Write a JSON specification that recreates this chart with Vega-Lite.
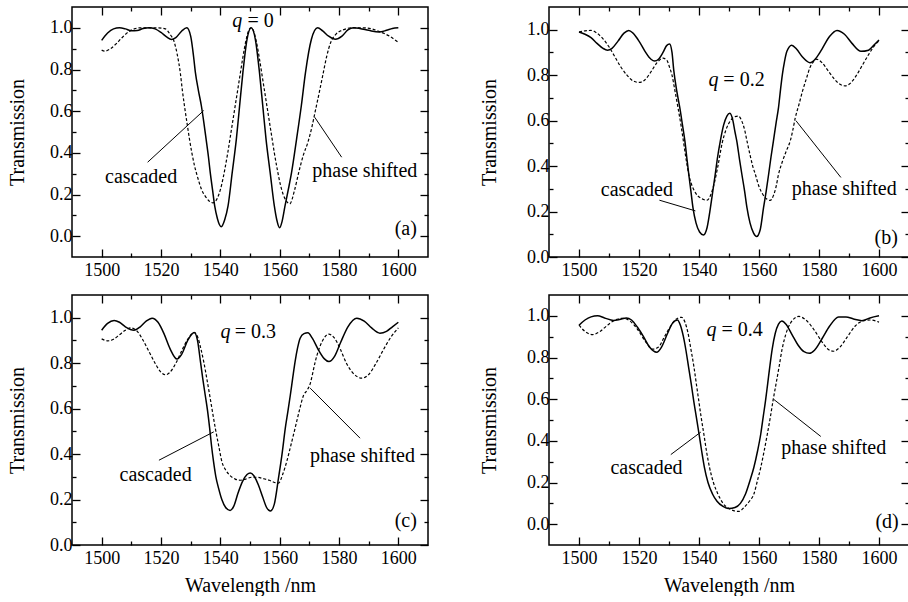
{
  "$schema": "https://vega.github.io/schema/vega-lite/v6.json",
  "background": "white",
  "padding": {"left": 6, "top": 5, "right": 0, "bottom": 0},
  "columns": 2,
  "spacing": {"row": 38, "column": 121},
  "bounds": "flush",
  "config": {
    "view": {"stroke": "black", "strokeWidth": 1.5},
    "axis": {"domain": false, "grid": false, "labelFont": "Liberation Serif, Times New Roman, DejaVu Serif, serif", "labelFontSize": 18, "labelColor": "black", "titleFont": "Liberation Serif, Times New Roman, DejaVu Serif, serif", "titleFontSize": 20, "titleFontWeight": "normal", "titleColor": "black", "tickColor": "black", "tickWidth": 1.3, "labelOverlap": false, "labelFlush": false},
    "text": {"font": "Liberation Serif, Times New Roman, DejaVu Serif, serif", "fontSize": 20, "color": "black"}
  },
  "datasets": {
    "ac": [{"w":1500,"t":0.94},{"w":1502,"t":0.975},{"w":1504,"t":0.995},{"w":1506,"t":1.0},{"w":1508,"t":0.995},{"w":1510,"t":0.986},{"w":1512,"t":0.987},{"w":1514,"t":0.997},{"w":1516,"t":1.0},{"w":1518,"t":0.995},{"w":1520,"t":0.978},{"w":1522,"t":0.955},{"w":1523.5,"t":0.944},{"w":1525,"t":0.953},{"w":1527,"t":0.985},{"w":1528.7,"t":1.0},{"w":1530,"t":0.96},{"w":1531,"t":0.86},{"w":1531.6,"t":0.785},{"w":1532.6,"t":0.7},{"w":1533.6,"t":0.626},{"w":1534.4,"t":0.55},{"w":1535.2,"t":0.466},{"w":1536,"t":0.38},{"w":1536.6,"t":0.305},{"w":1537.4,"t":0.22},{"w":1538.1,"t":0.145},{"w":1539,"t":0.085},{"w":1540.3,"t":0.045},{"w":1541.5,"t":0.08},{"w":1542.6,"t":0.145},{"w":1544,"t":0.305},{"w":1545.4,"t":0.466},{"w":1546.5,"t":0.626},{"w":1547.6,"t":0.785},{"w":1549,"t":0.945},{"w":1550.4,"t":1.0},{"w":1551.8,"t":0.945},{"w":1553.2,"t":0.785},{"w":1554.3,"t":0.626},{"w":1555.4,"t":0.466},{"w":1556.8,"t":0.305},{"w":1558.2,"t":0.145},{"w":1559,"t":0.08},{"w":1560,"t":0.04},{"w":1560.8,"t":0.07},{"w":1561.8,"t":0.145},{"w":1563,"t":0.23},{"w":1564,"t":0.305},{"w":1565.7,"t":0.466},{"w":1567.3,"t":0.626},{"w":1568.7,"t":0.785},{"w":1570.7,"t":0.945},{"w":1572.8,"t":1.0},{"w":1574.5,"t":0.985},{"w":1576.5,"t":0.96},{"w":1578.8,"t":0.945},{"w":1581,"t":0.96},{"w":1583,"t":0.99},{"w":1585,"t":1.0},{"w":1587,"t":0.997},{"w":1590,"t":0.988},{"w":1593.5,"t":0.98},{"w":1596,"t":0.988},{"w":1598,"t":0.997},{"w":1600,"t":1.0}],
    "ad": [{"w":1500,"t":0.893},{"w":1501,"t":0.888},{"w":1503,"t":0.9},{"w":1505,"t":0.925},{"w":1507,"t":0.955},{"w":1509,"t":0.98},{"w":1511,"t":0.995},{"w":1513,"t":1.0},{"w":1516,"t":1.0},{"w":1519,"t":1.0},{"w":1521.5,"t":0.995},{"w":1523,"t":0.97},{"w":1524.5,"t":0.93},{"w":1525.5,"t":0.87},{"w":1526.5,"t":0.785},{"w":1527.2,"t":0.7},{"w":1527.9,"t":0.626},{"w":1528.8,"t":0.54},{"w":1529.6,"t":0.466},{"w":1530.4,"t":0.4},{"w":1531.3,"t":0.338},{"w":1532.4,"t":0.28},{"w":1533.6,"t":0.226},{"w":1535,"t":0.19},{"w":1536.3,"t":0.168},{"w":1537.5,"t":0.16},{"w":1538.5,"t":0.17},{"w":1539.5,"t":0.2},{"w":1540.5,"t":0.25},{"w":1541.5,"t":0.32},{"w":1542.5,"t":0.4},{"w":1543.5,"t":0.49},{"w":1544.5,"t":0.58},{"w":1545.5,"t":0.67},{"w":1546.5,"t":0.76},{"w":1547.5,"t":0.85},{"w":1548.5,"t":0.93},{"w":1549.5,"t":0.985},{"w":1550.3,"t":1.0},{"w":1551.2,"t":0.985},{"w":1552.2,"t":0.93},{"w":1553.2,"t":0.85},{"w":1554.2,"t":0.76},{"w":1555.2,"t":0.67},{"w":1556.2,"t":0.58},{"w":1557.2,"t":0.49},{"w":1558.2,"t":0.4},{"w":1559.2,"t":0.32},{"w":1560.2,"t":0.25},{"w":1561.2,"t":0.2},{"w":1562.2,"t":0.17},{"w":1563.4,"t":0.155},{"w":1565,"t":0.22},{"w":1566.5,"t":0.31},{"w":1568,"t":0.39},{"w":1569.5,"t":0.45},{"w":1570.8,"t":0.52},{"w":1572,"t":0.6},{"w":1573.2,"t":0.68},{"w":1574.5,"t":0.77},{"w":1575.8,"t":0.86},{"w":1577.2,"t":0.93},{"w":1579,"t":0.97},{"w":1581.4,"t":0.99},{"w":1584,"t":1.0},{"w":1588,"t":1.0},{"w":1591,"t":0.995},{"w":1594,"t":0.98},{"w":1597,"t":0.96},{"w":1600,"t":0.93}],
    "bc": [{"w":1500,"t":0.99},{"w":1502,"t":0.98},{"w":1504,"t":0.965},{"w":1506,"t":0.94},{"w":1508,"t":0.918},{"w":1509.5,"t":0.91},{"w":1511,"t":0.918},{"w":1513,"t":0.95},{"w":1515,"t":0.985},{"w":1516.6,"t":0.997},{"w":1518,"t":0.985},{"w":1520,"t":0.95},{"w":1522,"t":0.905},{"w":1524,"t":0.87},{"w":1525.2,"t":0.862},{"w":1526.5,"t":0.87},{"w":1528,"t":0.9},{"w":1529.2,"t":0.93},{"w":1530.2,"t":0.937},{"w":1531,"t":0.9},{"w":1531.6,"t":0.82},{"w":1532.6,"t":0.73},{"w":1533.6,"t":0.657},{"w":1534.5,"t":0.58},{"w":1535.3,"t":0.51},{"w":1536,"t":0.43},{"w":1536.6,"t":0.363},{"w":1537.3,"t":0.29},{"w":1538,"t":0.216},{"w":1539,"t":0.15},{"w":1540.2,"t":0.11},{"w":1541.5,"t":0.097},{"w":1542.7,"t":0.13},{"w":1543.8,"t":0.216},{"w":1544.6,"t":0.29},{"w":1545.4,"t":0.363},{"w":1546.2,"t":0.44},{"w":1547.1,"t":0.51},{"w":1548.2,"t":0.58},{"w":1549.3,"t":0.62},{"w":1550.3,"t":0.632},{"w":1551.3,"t":0.6},{"w":1552,"t":0.55},{"w":1552.6,"t":0.51},{"w":1553.5,"t":0.43},{"w":1554.3,"t":0.363},{"w":1555.2,"t":0.29},{"w":1556,"t":0.216},{"w":1557,"t":0.15},{"w":1558.2,"t":0.105},{"w":1559.2,"t":0.09},{"w":1560.4,"t":0.12},{"w":1561.5,"t":0.216},{"w":1562.4,"t":0.29},{"w":1563.2,"t":0.363},{"w":1564,"t":0.44},{"w":1564.8,"t":0.51},{"w":1565.7,"t":0.59},{"w":1566.5,"t":0.657},{"w":1567.2,"t":0.74},{"w":1567.8,"t":0.804},{"w":1568.5,"t":0.86},{"w":1569.3,"t":0.905},{"w":1570.9,"t":0.932},{"w":1572.5,"t":0.915},{"w":1574.5,"t":0.88},{"w":1577,"t":0.855},{"w":1579,"t":0.875},{"w":1581,"t":0.915},{"w":1583.5,"t":0.97},{"w":1586,"t":0.997},{"w":1588.5,"t":0.98},{"w":1591,"t":0.94},{"w":1594,"t":0.905},{"w":1596.5,"t":0.91},{"w":1598.5,"t":0.935},{"w":1600,"t":0.955}],
    "bd": [{"w":1500,"t":0.99},{"w":1502,"t":0.995},{"w":1504,"t":0.997},{"w":1506,"t":0.985},{"w":1508,"t":0.96},{"w":1510,"t":0.925},{"w":1512,"t":0.88},{"w":1514,"t":0.835},{"w":1516,"t":0.8},{"w":1518,"t":0.775},{"w":1520,"t":0.768},{"w":1522,"t":0.78},{"w":1524,"t":0.815},{"w":1526,"t":0.855},{"w":1528,"t":0.875},{"w":1529.3,"t":0.865},{"w":1530.3,"t":0.83},{"w":1531,"t":0.8},{"w":1532,"t":0.73},{"w":1533,"t":0.657},{"w":1534,"t":0.58},{"w":1534.8,"t":0.51},{"w":1535.7,"t":0.43},{"w":1536.6,"t":0.363},{"w":1537.5,"t":0.32},{"w":1538.5,"t":0.29},{"w":1539.5,"t":0.27},{"w":1540.5,"t":0.26},{"w":1541.5,"t":0.253},{"w":1542.7,"t":0.25},{"w":1543.8,"t":0.27},{"w":1545,"t":0.32},{"w":1546.3,"t":0.4},{"w":1547.7,"t":0.5},{"w":1549,"t":0.56},{"w":1550.5,"t":0.6},{"w":1552,"t":0.618},{"w":1553.2,"t":0.62},{"w":1554.2,"t":0.6},{"w":1555.2,"t":0.56},{"w":1556,"t":0.51},{"w":1557,"t":0.45},{"w":1557.9,"t":0.4},{"w":1558.8,"t":0.363},{"w":1560,"t":0.31},{"w":1561.3,"t":0.275},{"w":1562.6,"t":0.255},{"w":1563.7,"t":0.249},{"w":1564.8,"t":0.27},{"w":1565.7,"t":0.31},{"w":1566.5,"t":0.363},{"w":1567.8,"t":0.42},{"w":1569.2,"t":0.47},{"w":1570.4,"t":0.51},{"w":1571.3,"t":0.56},{"w":1572.1,"t":0.613},{"w":1573.3,"t":0.67},{"w":1574.5,"t":0.73},{"w":1575.8,"t":0.785},{"w":1577,"t":0.834},{"w":1578.2,"t":0.86},{"w":1579.3,"t":0.87},{"w":1581,"t":0.855},{"w":1583,"t":0.82},{"w":1585,"t":0.785},{"w":1587,"t":0.76},{"w":1588.7,"t":0.753},{"w":1590.5,"t":0.765},{"w":1592.5,"t":0.8},{"w":1594.5,"t":0.845},{"w":1596.5,"t":0.89},{"w":1598.5,"t":0.93},{"w":1600,"t":0.951}],
    "cc": [{"w":1500,"t":0.945},{"w":1502,"t":0.975},{"w":1504.2,"t":0.988},{"w":1506,"t":0.98},{"w":1508,"t":0.96},{"w":1510.9,"t":0.945},{"w":1513,"t":0.96},{"w":1515,"t":0.985},{"w":1517,"t":0.998},{"w":1519,"t":0.98},{"w":1521,"t":0.93},{"w":1523,"t":0.865},{"w":1525.4,"t":0.818},{"w":1527,"t":0.84},{"w":1529,"t":0.9},{"w":1531.2,"t":0.935},{"w":1532.3,"t":0.9},{"w":1533.3,"t":0.807},{"w":1534.1,"t":0.73},{"w":1534.9,"t":0.66},{"w":1535.7,"t":0.59},{"w":1536.4,"t":0.514},{"w":1537,"t":0.44},{"w":1537.7,"t":0.368},{"w":1538.5,"t":0.3},{"w":1539.4,"t":0.25},{"w":1540.5,"t":0.2},{"w":1541.8,"t":0.165},{"w":1543.3,"t":0.152},{"w":1544.5,"t":0.17},{"w":1546,"t":0.23},{"w":1547.5,"t":0.28},{"w":1549,"t":0.31},{"w":1550.1,"t":0.317},{"w":1551.3,"t":0.305},{"w":1552.8,"t":0.265},{"w":1554.3,"t":0.21},{"w":1555.6,"t":0.165},{"w":1556.9,"t":0.15},{"w":1558.2,"t":0.18},{"w":1559.6,"t":0.294},{"w":1560.8,"t":0.4},{"w":1561.9,"t":0.514},{"w":1562.8,"t":0.59},{"w":1563.6,"t":0.66},{"w":1564.4,"t":0.735},{"w":1565.2,"t":0.807},{"w":1566,"t":0.865},{"w":1566.9,"t":0.91},{"w":1568.2,"t":0.93},{"w":1569.5,"t":0.934},{"w":1571,"t":0.91},{"w":1573,"t":0.86},{"w":1575,"t":0.82},{"w":1576.6,"t":0.807},{"w":1578.5,"t":0.83},{"w":1580.5,"t":0.89},{"w":1583,"t":0.96},{"w":1586,"t":0.998},{"w":1588.5,"t":0.985},{"w":1591,"t":0.955},{"w":1593.8,"t":0.932},{"w":1596,"t":0.94},{"w":1598,"t":0.96},{"w":1600,"t":0.98}],
    "cd": [{"w":1500,"t":0.907},{"w":1502,"t":0.898},{"w":1504,"t":0.905},{"w":1506,"t":0.925},{"w":1508,"t":0.945},{"w":1509.8,"t":0.955},{"w":1512,"t":0.94},{"w":1514,"t":0.9},{"w":1516,"t":0.85},{"w":1518,"t":0.8},{"w":1520,"t":0.76},{"w":1521.5,"t":0.749},{"w":1523,"t":0.76},{"w":1525,"t":0.8},{"w":1527,"t":0.855},{"w":1529,"t":0.905},{"w":1531.2,"t":0.935},{"w":1532.5,"t":0.91},{"w":1533.5,"t":0.86},{"w":1534.4,"t":0.807},{"w":1535.4,"t":0.735},{"w":1536.4,"t":0.66},{"w":1537.3,"t":0.59},{"w":1538.3,"t":0.514},{"w":1539.4,"t":0.44},{"w":1540.5,"t":0.368},{"w":1541.8,"t":0.33},{"w":1543.3,"t":0.305},{"w":1545,"t":0.29},{"w":1546.7,"t":0.285},{"w":1548.5,"t":0.29},{"w":1550.5,"t":0.298},{"w":1552.5,"t":0.298},{"w":1554.5,"t":0.292},{"w":1556.5,"t":0.285},{"w":1558.3,"t":0.275},{"w":1559.6,"t":0.272},{"w":1561,"t":0.31},{"w":1562.4,"t":0.368},{"w":1563.8,"t":0.44},{"w":1565.2,"t":0.514},{"w":1566.6,"t":0.59},{"w":1568.1,"t":0.66},{"w":1569.2,"t":0.68},{"w":1570.3,"t":0.71},{"w":1571.2,"t":0.76},{"w":1572,"t":0.807},{"w":1573.2,"t":0.86},{"w":1574.5,"t":0.9},{"w":1576.5,"t":0.928},{"w":1578.5,"t":0.91},{"w":1580.5,"t":0.86},{"w":1582.5,"t":0.8},{"w":1584.5,"t":0.76},{"w":1587.7,"t":0.734},{"w":1590,"t":0.75},{"w":1592.5,"t":0.8},{"w":1595,"t":0.86},{"w":1597.5,"t":0.915},{"w":1600,"t":0.955}],
    "dc": [{"w":1500,"t":0.955},{"w":1502,"t":0.98},{"w":1504,"t":0.995},{"w":1506.2,"t":1.0},{"w":1508.5,"t":0.99},{"w":1511.5,"t":0.978},{"w":1513.5,"t":0.982},{"w":1515.8,"t":0.99},{"w":1517.5,"t":0.98},{"w":1519.5,"t":0.945},{"w":1521.5,"t":0.9},{"w":1523.5,"t":0.85},{"w":1525.9,"t":0.825},{"w":1527.5,"t":0.85},{"w":1529.5,"t":0.915},{"w":1531.2,"t":0.965},{"w":1532.8,"t":0.98},{"w":1533.8,"t":0.955},{"w":1534.8,"t":0.9},{"w":1535.7,"t":0.83},{"w":1536.5,"t":0.756},{"w":1537.4,"t":0.675},{"w":1538.2,"t":0.595},{"w":1539.1,"t":0.515},{"w":1540,"t":0.434},{"w":1540.9,"t":0.35},{"w":1541.8,"t":0.273},{"w":1543,"t":0.2},{"w":1544.5,"t":0.145},{"w":1546,"t":0.11},{"w":1548,"t":0.085},{"w":1550,"t":0.075},{"w":1552,"t":0.08},{"w":1553.8,"t":0.1},{"w":1555.5,"t":0.145},{"w":1557,"t":0.21},{"w":1558.3,"t":0.273},{"w":1559.5,"t":0.35},{"w":1560.6,"t":0.434},{"w":1561.4,"t":0.515},{"w":1562.2,"t":0.595},{"w":1562.9,"t":0.675},{"w":1563.6,"t":0.756},{"w":1564.4,"t":0.84},{"w":1565.4,"t":0.915},{"w":1566.5,"t":0.96},{"w":1567.6,"t":0.975},{"w":1569,"t":0.96},{"w":1571,"t":0.91},{"w":1573,"t":0.86},{"w":1575,"t":0.828},{"w":1576.8,"t":0.82},{"w":1578.5,"t":0.835},{"w":1581,"t":0.89},{"w":1583.5,"t":0.95},{"w":1586.5,"t":0.995},{"w":1589,"t":0.995},{"w":1591.5,"t":0.985},{"w":1594.3,"t":0.977},{"w":1597,"t":0.99},{"w":1600,"t":1.0}],
    "dd": [{"w":1500,"t":0.955},{"w":1502,"t":0.925},{"w":1504.6,"t":0.91},{"w":1507,"t":0.925},{"w":1509.5,"t":0.955},{"w":1512,"t":0.98},{"w":1514.6,"t":0.988},{"w":1517,"t":0.975},{"w":1519.5,"t":0.935},{"w":1522,"t":0.88},{"w":1524.6,"t":0.84},{"w":1526.5,"t":0.85},{"w":1528.5,"t":0.9},{"w":1530.5,"t":0.95},{"w":1532.5,"t":0.985},{"w":1534.2,"t":0.993},{"w":1535.3,"t":0.97},{"w":1536.3,"t":0.92},{"w":1537.3,"t":0.84},{"w":1538.3,"t":0.756},{"w":1539.1,"t":0.675},{"w":1539.9,"t":0.595},{"w":1540.7,"t":0.515},{"w":1541.6,"t":0.434},{"w":1542.5,"t":0.35},{"w":1543.5,"t":0.273},{"w":1544.8,"t":0.2},{"w":1546.3,"t":0.145},{"w":1548,"t":0.1},{"w":1550,"t":0.075},{"w":1551.5,"t":0.065},{"w":1553.3,"t":0.061},{"w":1555,"t":0.08},{"w":1556.8,"t":0.11},{"w":1558.3,"t":0.145},{"w":1559.5,"t":0.21},{"w":1560.6,"t":0.273},{"w":1561.7,"t":0.35},{"w":1562.8,"t":0.434},{"w":1563.8,"t":0.515},{"w":1564.7,"t":0.595},{"w":1565.7,"t":0.675},{"w":1566.7,"t":0.756},{"w":1567.7,"t":0.84},{"w":1568.9,"t":0.91},{"w":1570.5,"t":0.965},{"w":1573.3,"t":0.997},{"w":1576,"t":0.975},{"w":1578.5,"t":0.93},{"w":1581,"t":0.875},{"w":1583,"t":0.84},{"w":1584.8,"t":0.83},{"w":1587,"t":0.85},{"w":1589.5,"t":0.9},{"w":1592,"t":0.95},{"w":1594.5,"t":0.975},{"w":1597,"t":0.98},{"w":1600,"t":0.97}],
    "notes": [
      {"p":"a","k":"n","txt":"cascaded","x":1513.3,"y":0.257},
      {"p":"a","k":"n","txt":"phase shifted","x":1588.7,"y":0.283},
      {"p":"a","k":"i","txt":"q","x":1545.7,"y":1.003},
      {"p":"a","k":"n","txt":"= 0","x":1553.6,"y":1.003},
      {"p":"a","k":"n","txt":"(a)","x":1602.5,"y":0.008},
      {"p":"b","k":"n","txt":"cascaded","x":1519.3,"y":0.269},
      {"p":"b","k":"n","txt":"phase shifted","x":1588.4,"y":0.272},
      {"p":"b","k":"i","txt":"q","x":1544.8,"y":0.754},
      {"p":"b","k":"n","txt":"= 0.2","x":1555.0,"y":0.754},
      {"p":"b","k":"n","txt":"(b)","x":1602.4,"y":0.059},
      {"p":"c","k":"n","txt":"cascaded","x":1518.2,"y":0.283},
      {"p":"c","k":"n","txt":"phase shifted","x":1587.9,"y":0.366},
      {"p":"c","k":"i","txt":"q","x":1541.7,"y":0.909},
      {"p":"c","k":"n","txt":"= 0.3","x":1551.8,"y":0.909},
      {"p":"c","k":"n","txt":"(c)","x":1602.5,"y":0.078},
      {"p":"d","k":"n","txt":"cascaded","x":1522.5,"y":0.241},
      {"p":"d","k":"n","txt":"phase shifted","x":1584.9,"y":0.338},
      {"p":"d","k":"i","txt":"q","x":1544.2,"y":0.904},
      {"p":"d","k":"n","txt":"= 0.4","x":1554.4,"y":0.904},
      {"p":"d","k":"n","txt":"(d)","x":1602.7,"y":-0.016}
    ],
    "leaders": [
      {"p":"a","x":1515.5,"y":0.355,"x2":1534.4,"y2":0.603},
      {"p":"a","x":1571.8,"y":0.571,"x2":1580.9,"y2":0.379},
      {"p":"b","x":1526.8,"y":0.25,"x2":1538.8,"y2":0.203},
      {"p":"b","x":1572.3,"y":0.6,"x2":1587.3,"y2":0.35},
      {"p":"c","x":1519.3,"y":0.373,"x2":1537.8,"y2":0.498},
      {"p":"c","x":1570.3,"y":0.69,"x2":1587.1,"y2":0.47},
      {"p":"d","x":1530.6,"y":0.334,"x2":1540.6,"y2":0.442},
      {"p":"d","x":1565,"y":0.598,"x2":1580.6,"y2":0.421}
    ]
  },
  "concat": [
    {
      "width": 356, "height": 250,
      "resolve": {"axis": {"x": "independent", "y": "independent"}},
      "layer": [
        {"data": {"name": "ac"}, "mark": {"type": "line", "color": "black", "strokeWidth": 1.5, "interpolate": "monotone"},
         "encoding": {
           "x": {"field": "w", "type": "quantitative", "scale": {"domain": [1490, 1610], "nice": false, "zero": false},
                 "axis": {"orient": "bottom", "values": [1500,1510,1520,1530,1540,1550,1560,1570,1580,1590,1600], "format": "d", "labelExpr": "datum.value % 20 == 0 ? datum.label : ''", "tickSize": {"condition": {"test": "datum.value % 20 != 0", "value": -4}, "value": -8}, "labelPadding": 12, "title": null}},
           "y": {"field": "t", "type": "quantitative", "scale": {"domain": [-0.1, 1.1], "nice": false, "zero": false},
                 "axis": {"orient": "left", "values": [0,0.1,0.2,0.3,0.4,0.5,0.6,0.7,0.8,0.9,1.0], "format": ".1f", "labelExpr": "round(datum.value*10) % 2 == 0 ? datum.label : ''", "tickSize": {"condition": {"test": "round(datum.value*10) % 2 != 0", "value": -4}, "value": -8}, "labelPadding": 8, "title": "Transmission", "titlePadding": 22}}
         }},
        {"data": {"name": "ad"}, "mark": {"type": "line", "color": "black", "strokeWidth": 1.2, "strokeDash": [3, 2], "interpolate": "monotone"},
         "encoding": {
           "x": {"field": "w", "type": "quantitative",
                 "axis": {"orient": "top", "values": [1500,1510,1520,1530,1540,1550,1560,1570,1580,1590,1600], "labels": false, "tickSize": {"condition": {"test": "datum.value % 20 != 0", "value": -4}, "value": -8}, "title": null}},
           "y": {"field": "t", "type": "quantitative",
                 "axis": {"orient": "right", "values": [0,0.1,0.2,0.3,0.4,0.5,0.6,0.7,0.8,0.9,1.0], "labels": false, "tickSize": {"condition": {"test": "round(datum.value*10) % 2 != 0", "value": -4}, "value": -8}, "title": null}}
         }},
        {"data": {"name": "leaders"}, "transform": [{"filter": "datum.p == 'a'"}], "mark": {"type": "rule", "color": "black", "strokeWidth": 1},
         "encoding": {"x": {"field": "x", "type": "quantitative", "axis": null}, "y": {"field": "y", "type": "quantitative", "axis": null}, "x2": {"field": "x2"}, "y2": {"field": "y2"}}},
        {"data": {"name": "notes"}, "transform": [{"filter": "datum.p == 'a' && datum.k == 'n'"}], "mark": {"type": "text", "align": "center", "baseline": "alphabetic"},
         "encoding": {"x": {"field": "x", "type": "quantitative", "axis": null}, "y": {"field": "y", "type": "quantitative", "axis": null}, "text": {"field": "txt"}}},
        {"data": {"name": "notes"}, "transform": [{"filter": "datum.p == 'a' && datum.k == 'i'"}], "mark": {"type": "text", "align": "center", "baseline": "alphabetic", "fontStyle": "italic"},
         "encoding": {"x": {"field": "x", "type": "quantitative", "axis": null}, "y": {"field": "y", "type": "quantitative", "axis": null}, "text": {"field": "txt"}}}
      ]
    },
    {
      "width": 360, "height": 250,
      "resolve": {"axis": {"x": "independent", "y": "independent"}},
      "layer": [
        {"data": {"name": "bc"}, "mark": {"type": "line", "color": "black", "strokeWidth": 1.5, "interpolate": "monotone"},
         "encoding": {
           "x": {"field": "w", "type": "quantitative", "scale": {"domain": [1490, 1610], "nice": false, "zero": false},
                 "axis": {"orient": "bottom", "values": [1500,1510,1520,1530,1540,1550,1560,1570,1580,1590,1600], "format": "d", "labelExpr": "datum.value % 20 == 0 ? datum.label : ''", "tickSize": {"condition": {"test": "datum.value % 20 != 0", "value": -4}, "value": -8}, "labelPadding": 12, "title": null}},
           "y": {"field": "t", "type": "quantitative", "scale": {"domain": [0, 1.1], "nice": false, "zero": false},
                 "axis": {"orient": "left", "values": [0,0.1,0.2,0.3,0.4,0.5,0.6,0.7,0.8,0.9,1.0], "format": ".1f", "labelExpr": "round(datum.value*10) % 2 == 0 ? datum.label : ''", "tickSize": {"condition": {"test": "round(datum.value*10) % 2 != 0", "value": -4}, "value": -8}, "labelPadding": 8, "title": "Transmission", "titlePadding": 27}}
         }},
        {"data": {"name": "bd"}, "mark": {"type": "line", "color": "black", "strokeWidth": 1.2, "strokeDash": [3, 2], "interpolate": "monotone"},
         "encoding": {
           "x": {"field": "w", "type": "quantitative",
                 "axis": {"orient": "top", "values": [1500,1510,1520,1530,1540,1550,1560,1570,1580,1590,1600], "labels": false, "tickSize": {"condition": {"test": "datum.value % 20 != 0", "value": -4}, "value": -8}, "title": null}},
           "y": {"field": "t", "type": "quantitative",
                 "axis": {"orient": "right", "values": [0,0.1,0.2,0.3,0.4,0.5,0.6,0.7,0.8,0.9,1.0], "labels": false, "tickSize": {"condition": {"test": "round(datum.value*10) % 2 != 0", "value": -4}, "value": -8}, "title": null}}
         }},
        {"data": {"name": "leaders"}, "transform": [{"filter": "datum.p == 'b'"}], "mark": {"type": "rule", "color": "black", "strokeWidth": 1},
         "encoding": {"x": {"field": "x", "type": "quantitative", "axis": null}, "y": {"field": "y", "type": "quantitative", "axis": null}, "x2": {"field": "x2"}, "y2": {"field": "y2"}}},
        {"data": {"name": "notes"}, "transform": [{"filter": "datum.p == 'b' && datum.k == 'n'"}], "mark": {"type": "text", "align": "center", "baseline": "alphabetic"},
         "encoding": {"x": {"field": "x", "type": "quantitative", "axis": null}, "y": {"field": "y", "type": "quantitative", "axis": null}, "text": {"field": "txt"}}},
        {"data": {"name": "notes"}, "transform": [{"filter": "datum.p == 'b' && datum.k == 'i'"}], "mark": {"type": "text", "align": "center", "baseline": "alphabetic", "fontStyle": "italic"},
         "encoding": {"x": {"field": "x", "type": "quantitative", "axis": null}, "y": {"field": "y", "type": "quantitative", "axis": null}, "text": {"field": "txt"}}}
      ]
    },
    {
      "width": 356, "height": 250,
      "resolve": {"axis": {"x": "independent", "y": "independent"}},
      "layer": [
        {"data": {"name": "cc"}, "mark": {"type": "line", "color": "black", "strokeWidth": 1.5, "interpolate": "monotone"},
         "encoding": {
           "x": {"field": "w", "type": "quantitative", "scale": {"domain": [1490, 1610], "nice": false, "zero": false},
                 "axis": {"orient": "bottom", "values": [1500,1510,1520,1530,1540,1550,1560,1570,1580,1590,1600], "format": "d", "labelExpr": "datum.value % 20 == 0 ? datum.label : ''", "tickSize": {"condition": {"test": "datum.value % 20 != 0", "value": -4}, "value": -8}, "labelPadding": 12, "title": "Wavelength /nm", "titlePadding": 4}},
           "y": {"field": "t", "type": "quantitative", "scale": {"domain": [0, 1.1], "nice": false, "zero": false},
                 "axis": {"orient": "left", "values": [0,0.1,0.2,0.3,0.4,0.5,0.6,0.7,0.8,0.9,1.0], "format": ".1f", "labelExpr": "round(datum.value*10) % 2 == 0 ? datum.label : ''", "tickSize": {"condition": {"test": "round(datum.value*10) % 2 != 0", "value": -4}, "value": -8}, "labelPadding": 8, "title": "Transmission", "titlePadding": 22}}
         }},
        {"data": {"name": "cd"}, "mark": {"type": "line", "color": "black", "strokeWidth": 1.2, "strokeDash": [3, 2], "interpolate": "monotone"},
         "encoding": {
           "x": {"field": "w", "type": "quantitative",
                 "axis": {"orient": "top", "values": [1500,1510,1520,1530,1540,1550,1560,1570,1580,1590,1600], "labels": false, "tickSize": {"condition": {"test": "datum.value % 20 != 0", "value": -4}, "value": -8}, "title": null}},
           "y": {"field": "t", "type": "quantitative",
                 "axis": {"orient": "right", "values": [0,0.1,0.2,0.3,0.4,0.5,0.6,0.7,0.8,0.9,1.0], "labels": false, "tickSize": {"condition": {"test": "round(datum.value*10) % 2 != 0", "value": -4}, "value": -8}, "title": null}}
         }},
        {"data": {"name": "leaders"}, "transform": [{"filter": "datum.p == 'c'"}], "mark": {"type": "rule", "color": "black", "strokeWidth": 1},
         "encoding": {"x": {"field": "x", "type": "quantitative", "axis": null}, "y": {"field": "y", "type": "quantitative", "axis": null}, "x2": {"field": "x2"}, "y2": {"field": "y2"}}},
        {"data": {"name": "notes"}, "transform": [{"filter": "datum.p == 'c' && datum.k == 'n'"}], "mark": {"type": "text", "align": "center", "baseline": "alphabetic"},
         "encoding": {"x": {"field": "x", "type": "quantitative", "axis": null}, "y": {"field": "y", "type": "quantitative", "axis": null}, "text": {"field": "txt"}}},
        {"data": {"name": "notes"}, "transform": [{"filter": "datum.p == 'c' && datum.k == 'i'"}], "mark": {"type": "text", "align": "center", "baseline": "alphabetic", "fontStyle": "italic"},
         "encoding": {"x": {"field": "x", "type": "quantitative", "axis": null}, "y": {"field": "y", "type": "quantitative", "axis": null}, "text": {"field": "txt"}}}
      ]
    },
    {
      "width": 360, "height": 250,
      "resolve": {"axis": {"x": "independent", "y": "independent"}},
      "layer": [
        {"data": {"name": "dc"}, "mark": {"type": "line", "color": "black", "strokeWidth": 1.5, "interpolate": "monotone"},
         "encoding": {
           "x": {"field": "w", "type": "quantitative", "scale": {"domain": [1490, 1610], "nice": false, "zero": false},
                 "axis": {"orient": "bottom", "values": [1500,1510,1520,1530,1540,1550,1560,1570,1580,1590,1600], "format": "d", "labelExpr": "datum.value % 20 == 0 ? datum.label : ''", "tickSize": {"condition": {"test": "datum.value % 20 != 0", "value": -4}, "value": -8}, "labelPadding": 12, "title": "Wavelength /nm", "titlePadding": 4}},
           "y": {"field": "t", "type": "quantitative", "scale": {"domain": [-0.1, 1.1], "nice": false, "zero": false},
                 "axis": {"orient": "left", "values": [0,0.1,0.2,0.3,0.4,0.5,0.6,0.7,0.8,0.9,1.0], "format": ".1f", "labelExpr": "round(datum.value*10) % 2 == 0 ? datum.label : ''", "tickSize": {"condition": {"test": "round(datum.value*10) % 2 != 0", "value": -4}, "value": -8}, "labelPadding": 8, "title": "Transmission", "titlePadding": 27}}
         }},
        {"data": {"name": "dd"}, "mark": {"type": "line", "color": "black", "strokeWidth": 1.2, "strokeDash": [3, 2], "interpolate": "monotone"},
         "encoding": {
           "x": {"field": "w", "type": "quantitative",
                 "axis": {"orient": "top", "values": [1500,1510,1520,1530,1540,1550,1560,1570,1580,1590,1600], "labels": false, "tickSize": {"condition": {"test": "datum.value % 20 != 0", "value": -4}, "value": -8}, "title": null}},
           "y": {"field": "t", "type": "quantitative",
                 "axis": {"orient": "right", "values": [0,0.1,0.2,0.3,0.4,0.5,0.6,0.7,0.8,0.9,1.0], "labels": false, "tickSize": {"condition": {"test": "round(datum.value*10) % 2 != 0", "value": -4}, "value": -8}, "title": null}}
         }},
        {"data": {"name": "leaders"}, "transform": [{"filter": "datum.p == 'd'"}], "mark": {"type": "rule", "color": "black", "strokeWidth": 1},
         "encoding": {"x": {"field": "x", "type": "quantitative", "axis": null}, "y": {"field": "y", "type": "quantitative", "axis": null}, "x2": {"field": "x2"}, "y2": {"field": "y2"}}},
        {"data": {"name": "notes"}, "transform": [{"filter": "datum.p == 'd' && datum.k == 'n'"}], "mark": {"type": "text", "align": "center", "baseline": "alphabetic"},
         "encoding": {"x": {"field": "x", "type": "quantitative", "axis": null}, "y": {"field": "y", "type": "quantitative", "axis": null}, "text": {"field": "txt"}}},
        {"data": {"name": "notes"}, "transform": [{"filter": "datum.p == 'd' && datum.k == 'i'"}], "mark": {"type": "text", "align": "center", "baseline": "alphabetic", "fontStyle": "italic"},
         "encoding": {"x": {"field": "x", "type": "quantitative", "axis": null}, "y": {"field": "y", "type": "quantitative", "axis": null}, "text": {"field": "txt"}}}
      ]
    }
  ]
}
